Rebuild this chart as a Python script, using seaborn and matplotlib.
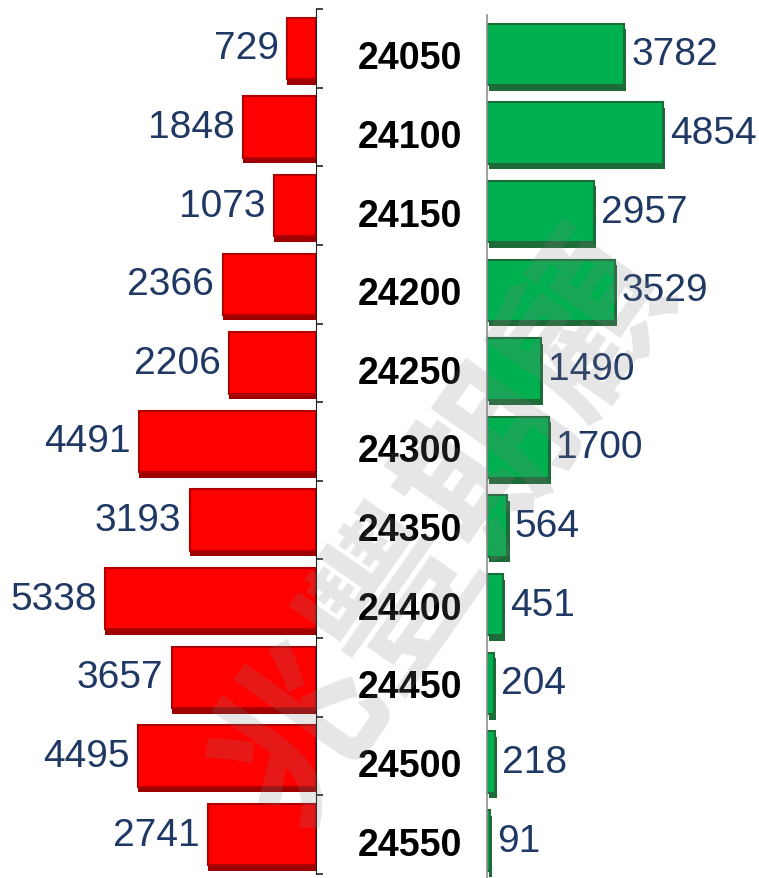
import seaborn as sb
import matplotlib.pyplot as plt
import matplotlib.patheffects as pe
import numpy as np
import pandas as pd

strikes = ['24050', '24100', '24150', '24200', '24250', '24300',
           '24350', '24400', '24450', '24500', '24550']
puts = [729, 1848, 1073, 2366, 2206, 4491, 3193, 5338, 3657, 4495, 2741]
calls = [3782, 4854, 2957, 3529, 1490, 1700, 564, 451, 204, 218, 91]
watermark = '兆豐期顧'

data = pd.DataFrame({'strike': strikes, 'put': puts, 'call': calls})

sb.set_style('white')
plt.rcParams['font.family'] = ['Liberation Sans', 'DejaVu Sans']

W, H = 759, 879
fig = plt.figure(figsize=(W / 100, H / 100), dpi=100)
axL = fig.add_axes([0, 4 / H, 316 / W, 865 / H])
axR = fig.add_axes([487 / W, -2 / H, 272 / W, 865 / H])

navy = '#1F3864'

# put side (red, grows to the left)
sb.barplot(data=data, x='put', y='strike', orient='h', ax=axL,
           color='#FF0000', saturation=1, width=0.78,
           edgecolor='#B00000', linewidth=1.5)
axL.set_xlim(8000, 0)
axL.bar_label(axL.containers[0], padding=6, fontsize=28, color=navy)

# call side (green, grows to the right)
sb.barplot(data=data, x='call', y='strike', orient='h', ax=axR,
           color='#00B050', saturation=1, width=0.78,
           edgecolor='#1E6B3A', linewidth=1.5)
axR.set_xlim(0, 7500)
axR.bar_label(axR.containers[0], padding=5, fontsize=28, color=navy)

# darker lower edge, like the bevelled bars of the original
for bar in axL.containers[0]:
    bar.set_path_effects([pe.SimplePatchShadow(offset=(0, -4), shadow_rgbFace='#9E0000', alpha=1),
                          pe.Normal()])
for bar in axR.containers[0]:
    bar.set_path_effects([pe.SimplePatchShadow(offset=(1.5, -4), shadow_rgbFace='#1E6B3A', alpha=1),
                          pe.Normal()])

bounds = np.arange(-0.5, len(strikes), 1)
for ax in (axL, axR):
    ax.set_xlabel('')
    ax.set_ylabel('')
    ax.set_xticks([])
    ax.set_ylim(len(strikes) - 0.5, -0.5)
    ax.set_yticks(bounds, minor=True)
    ax.set_facecolor('none')
    for s in ax.spines.values():
        s.set_visible(False)

axL.spines['right'].set_visible(True)
axL.spines['right'].set_color('#222222')
axL.yaxis.tick_right()
axL.set_yticklabels([])
axL.tick_params(axis='y', which='major', length=0)
axL.tick_params(axis='y', which='minor', length=5, width=1.2,
                color='#222222', direction='out')

axR.spines['left'].set_visible(True)
axR.spines['left'].set_color('#909090')
axR.spines['left'].set_linewidth(1.2)
axR.tick_params(axis='y', which='major', length=0, pad=18,
                labelsize=27, labelcolor='black')
axR.tick_params(axis='y', which='minor', length=8, width=1.2,
                color='#909090', direction='out')
for t in axR.get_yticklabels():
    t.set_fontweight('bold')

fig.text(445 / W, 1 - 530 / H, watermark, fontsize=120, rotation=55,
         color='gray', alpha=0.2, ha='center', va='center', fontweight='bold',
         family=['Noto Sans CJK TC', 'DejaVu Sans'], zorder=10)

plt.savefig('out.png', dpi=100)
